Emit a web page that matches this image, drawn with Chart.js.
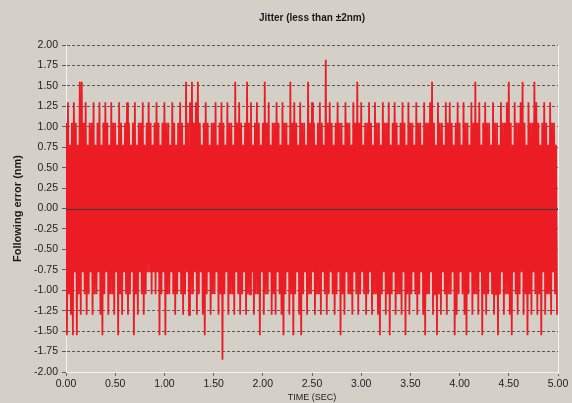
<!DOCTYPE html>
<html>
<head>
<meta charset="utf-8">
<script src="https://cdn.jsdelivr.net/npm/chart.js@4/dist/chart.umd.min.js"></script>
<style>
    html, body { margin: 0; padding: 0; background: #d4d0c8; }
    #jitter { display: block; }
</style>
</head>
<body>
<canvas id="jitter" width="572" height="403"></canvas>
<script>
// Peak values (nm), one positive and one negative peak per 0.02 s
var positivePeaks = [
    1.05, 1.3, 0.78, 1.05, 1.3, 1.05, 0.78, 1.55, 1.55, 1.05,
    1.3, 0.78, 1.05, 1.05, 1.3, 0.78, 1.05, 1.3, 0.78, 1.05,
    1.3, 1.05, 0.78, 1.3, 1.05, 1.05, 0.78, 1.3, 1.05, 0.78,
    1.05, 1.3, 1.05, 0.78, 1.05, 1.3, 0.78, 1.05, 1.05, 1.3,
    0.78, 1.05, 1.3, 1.05, 0.78, 1.05, 1.3, 1.05, 0.78, 1.05,
    1.3, 1.05, 1.05, 0.78, 1.3, 1.05, 0.78, 1.05, 1.3, 1.05,
    0.78, 1.55, 1.05, 1.3, 1.55, 1.05, 1.3, 1.55, 1.05, 0.78,
    1.05, 1.3, 1.05, 0.78, 1.05, 1.05, 1.3, 0.78, 1.05, 1.3,
    1.05, 0.78, 1.3, 1.05, 1.05, 0.78, 1.55, 1.05, 1.3, 1.05,
    0.78, 1.05, 1.55, 1.05, 1.3, 0.78, 1.05, 1.3, 1.05, 0.78,
    1.05, 1.55, 1.05, 1.3, 0.78, 1.05, 1.05, 1.3, 1.05, 0.78,
    1.3, 1.05, 1.05, 0.78, 1.55, 1.05, 1.3, 1.05, 0.78, 1.3,
    1.05, 1.05, 0.78, 1.55, 1.05, 1.3, 1.05, 0.78, 1.05, 1.3,
    1.05, 0.78, 1.82, 1.05, 1.3, 1.05, 0.78, 1.05, 1.3, 1.05,
    1.05, 0.78, 1.3, 1.05, 1.05, 0.78, 1.3, 1.05, 1.55, 1.05,
    1.3, 0.78, 1.05, 1.05, 1.3, 1.05, 0.78, 1.3, 1.05, 1.05,
    0.78, 1.3, 1.05, 1.05, 1.3, 0.78, 1.05, 1.3, 1.05, 0.78,
    1.05, 1.3, 1.05, 0.78, 1.3, 1.05, 1.05, 0.78, 1.3, 1.05,
    1.05, 0.78, 1.3, 1.05, 1.05, 1.3, 1.55, 1.05, 0.78, 1.3,
    1.05, 1.05, 0.78, 1.3, 1.05, 1.3, 1.05, 0.78, 1.05, 1.3,
    1.05, 0.78, 1.3, 1.05, 1.05, 0.78, 1.3, 1.05, 1.55, 1.05,
    1.3, 0.78, 1.05, 1.3, 1.05, 1.05, 0.78, 1.3, 1.05, 1.05,
    0.78, 1.3, 1.05, 1.05, 1.3, 1.55, 1.05, 0.78, 1.3, 1.05,
    1.05, 1.3, 1.55, 1.05, 0.78, 1.3, 1.05, 1.05, 1.55, 1.3,
    1.05, 0.78, 1.05, 1.3, 1.05, 0.78, 1.3, 1.05, 1.05, 0.78
];
var negativePeaks = [
    -1.55, -1.05, -1.3, -1.55, -0.78, -1.55, -1.05, -1.3, -0.78, -1.05,
    -1.3, -1.05, -0.78, -1.3, -1.05, -1.05, -0.78, -1.3, -1.55, -1.05,
    -0.78, -1.3, -1.05, -1.05, -1.3, -0.78, -1.55, -1.05, -1.3, -0.78,
    -1.05, -1.3, -1.05, -0.78, -1.55, -1.05, -1.3, -0.78, -1.05, -1.3,
    -1.05, -0.78, -0.78, -1.05, -0.78, -1.05, -0.78, -1.55, -1.05, -0.78,
    -1.55, -1.05, -1.05, -0.78, -1.05, -1.3, -1.05, -0.78, -1.05, -1.3,
    -1.05, -0.78, -1.3, -1.05, -1.05, -0.78, -1.3, -1.05, -0.78, -1.3,
    -1.55, -1.05, -0.78, -1.3, -1.05, -1.05, -0.78, -1.3, -1.05, -1.85,
    -1.05, -0.78, -1.3, -1.05, -1.05, -1.3, -0.78, -1.05, -1.3, -1.05,
    -0.78, -1.3, -1.05, -1.05, -0.78, -1.3, -1.05, -1.05, -1.55, -0.78,
    -1.3, -1.05, -1.05, -0.78, -1.3, -1.05, -1.3, -0.78, -1.05, -1.3,
    -1.55, -1.05, -0.78, -1.3, -1.05, -1.55, -1.05, -0.78, -1.3, -1.55,
    -1.05, -0.78, -1.3, -1.05, -1.05, -0.78, -1.3, -1.05, -1.05, -1.3,
    -0.78, -1.05, -1.3, -1.05, -0.78, -1.05, -1.3, -1.05, -0.78, -1.55,
    -1.05, -1.3, -0.78, -1.05, -1.05, -1.3, -0.78, -1.05, -1.3, -1.05,
    -0.78, -1.05, -1.3, -1.05, -0.78, -1.3, -1.05, -1.05, -1.3, -1.55,
    -1.05, -0.78, -1.3, -1.05, -1.55, -1.05, -0.78, -1.3, -1.05, -1.05,
    -1.3, -0.78, -1.55, -1.05, -1.3, -1.05, -0.78, -1.05, -1.3, -1.05,
    -0.78, -1.3, -1.55, -1.05, -1.05, -0.78, -1.3, -1.05, -1.55, -1.05,
    -1.3, -0.78, -1.05, -1.3, -1.05, -1.05, -0.78, -1.55, -1.3, -1.05,
    -0.78, -1.05, -1.3, -1.55, -1.05, -0.78, -1.3, -1.05, -1.05, -1.3,
    -0.78, -1.55, -1.05, -1.3, -1.05, -0.78, -1.05, -1.3, -1.05, -1.55,
    -1.05, -0.78, -1.3, -1.05, -1.05, -1.3, -1.55, -0.78, -1.05, -1.3,
    -1.05, -0.78, -1.3, -1.05, -1.55, -1.05, -1.3, -0.78, -1.05, -1.3,
    -1.05, -1.55, -0.78, -1.3, -1.05, -1.05, -1.3, -0.78, -1.05, -1.3
];
var sampleStep = 0.01; // seconds between two consecutive samples

var chartTitle = 'Jitter (less than \u00b12nm)';
var xTitle = 'TIME (SEC)';
var yTitle = 'Following error (nm)';

// interleave the peaks into one sampled signal
var errorSignal = [];
for (var i = 0; i < positivePeaks.length; i++) {
    errorSignal.push({ x: (2 * i) * sampleStep, y: positivePeaks[i] });
    errorSignal.push({ x: (2 * i + 1) * sampleStep, y: negativePeaks[i] });
}

var fontFamily = '"Liberation Sans", Arial, sans-serif';

// solid zero line over the trace, light frame on the right side
var plotFramePlugin = {
    id: 'plotFrame',
    afterDatasetsDraw: function (chart) {
        var ctx = chart.ctx, area = chart.chartArea;
        var y0 = Math.round(chart.scales.y.getPixelForValue(0)) + 0.5;
        ctx.save();
        ctx.strokeStyle = '#3c3c3c';
        ctx.lineWidth = 1;
        ctx.beginPath();
        ctx.moveTo(area.left, y0);
        ctx.lineTo(area.right, y0);
        ctx.stroke();
        ctx.strokeStyle = '#f2f2f2';
        ctx.beginPath();
        ctx.moveTo(Math.round(area.right) + 0.5, area.top);
        ctx.lineTo(Math.round(area.right) + 0.5, area.bottom + 2);
        ctx.stroke();
        ctx.restore();
    }
};

var chart = new Chart(document.getElementById('jitter'), {
    type: 'line',
    data: {
        datasets: [{
            data: errorSignal,
            borderColor: 'rgb(236, 28, 36)',
            borderWidth: 1.8,
            pointRadius: 0,
            tension: 0,
            fill: false
        }]
    },
    options: {
        responsive: false,
        animation: false,
        layout: {
            padding: { left: 0, right: 14, top: 0, bottom: 0 }
        },
        plugins: {
            legend: { display: false },
            tooltip: { enabled: false },
            title: {
                display: true,
                fullSize: false, // center over the plot, not the canvas
                text: chartTitle,
                color: '#1a1a1a',
                font: { family: fontFamily, size: 10, weight: 'bold' },
                padding: { top: 12, bottom: 21 }
            }
        },
        scales: {
            x: {
                type: 'linear',
                min: 0,
                max: 5,
                afterFit: function (scale) { scale.height = 31; },
                ticks: {
                    stepSize: 0.5,
                    autoSkip: false,
                    maxRotation: 0,
                    padding: 2,
                    color: '#222',
                    font: { family: fontFamily, size: 10.5 },
                    callback: function (v) { return v.toFixed(2); }
                },
                grid: {
                    drawOnChartArea: false,
                    tickLength: 4,
                    color: '#666'
                },
                border: { color: '#f2f2f2' },
                title: {
                    display: true,
                    text: xTitle,
                    color: '#222',
                    font: { family: fontFamily, size: 9 },
                    padding: { top: 0, bottom: 0 }
                }
            },
            y: {
                min: -2,
                max: 2,
                afterFit: function (scale) { scale.width = 66; },
                ticks: {
                    stepSize: 0.25,
                    autoSkip: false,
                    padding: 4,
                    color: '#222',
                    font: { family: fontFamily, size: 10.5 },
                    callback: function (v) { return v.toFixed(2); }
                },
                grid: {
                    color: '#5a5a5a',
                    tickLength: 4
                },
                border: { color: '#f2f2f2', dash: [3, 2] },
                title: {
                    display: true,
                    text: yTitle,
                    color: '#1a1a1a',
                    font: { family: fontFamily, size: 11, weight: 'bold' },
                    padding: { top: 11, bottom: 0 }
                }
            }
        }
    },
    plugins: [plotFramePlugin]
});
</script>
</body>
</html>
